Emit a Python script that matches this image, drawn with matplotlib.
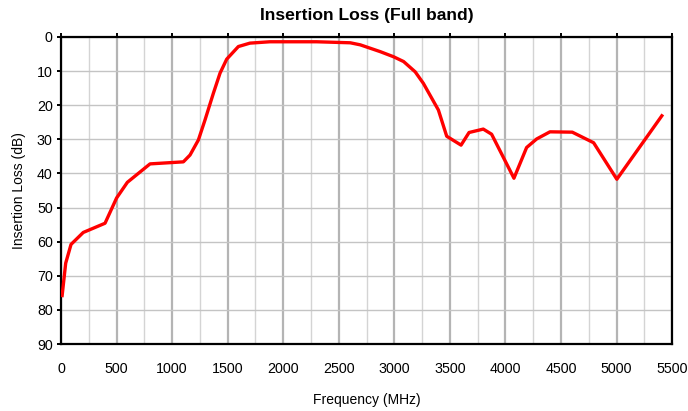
import matplotlib.pyplot as plt
import numpy as np

plt.rcParams['font.family'] = ['Liberation Sans', 'DejaVu Sans']

freq = [10, 42, 90, 200, 396, 500, 597, 801, 1101, 1161, 1236, 1296, 1371, 1431, 1491, 1596, 1700,
        1880, 2300, 2603, 2693, 2873, 2993, 3083, 3187, 3261, 3396, 3471, 3600, 3672,
        3800, 3875, 4076, 4190, 4280, 4400, 4601, 4793, 5002, 5407]
loss = [75.8, 66.3, 60.8, 57.3, 54.6, 47.2, 42.6, 37.2, 36.6, 34.6, 30.2, 24.3, 16.5, 10.6, 6.5, 2.8, 1.8,
        1.4, 1.4, 1.7, 2.3, 4.3, 5.8, 7.2, 10.2, 13.6, 21.4, 29.1, 31.7, 28.0,
        27.0, 28.5, 41.4, 32.4, 29.9, 27.8, 27.9, 31.0, 41.7, 23.1]

xticks = np.arange(0, 5501, 500)
yticks = np.arange(0, 91, 10)

fig = plt.figure(figsize=(6.88, 4.11), dpi=100)
ax = fig.add_axes([0.0887, 0.163, 0.8883, 0.747])

ax.plot(freq, loss, color='#ff0000', lw=2.4, zorder=3)

ax.set_xlim(0, 5500)
ax.set_ylim(90, 0)
ax.set_xticks(xticks)
ax.set_xticks(np.arange(250, 5500, 500), minor=True)
ax.set_yticks(yticks)

ax.grid(True, which='major', axis='x', color='#b4b4b4', lw=1.6)
ax.grid(True, which='minor', axis='x', color='#d4d4d4', lw=1.0)
ax.grid(True, which='major', axis='y', color='#c4c4c4', lw=1.0)

for s in ax.spines.values():
    s.set_linewidth(1.6)
    s.set_color('black')

ax.tick_params(axis='x', which='major', top=True, bottom=False, direction='out',
               length=3, width=1.4, labelsize=10.3, pad=10)
ax.tick_params(axis='x', which='minor', top=False, bottom=False)
ax.tick_params(axis='y', which='major', left=True, direction='out', length=3,
               width=1.4, labelsize=10.3, pad=3)

ax.set_xlabel('Frequency (MHz)', fontsize=10, labelpad=12)
ax.set_ylabel('Insertion Loss (dB)', fontsize=10, labelpad=8)
ax.set_title('Insertion Loss (Full band)', fontsize=12.6, fontweight='bold', pad=12)

fig.savefig('out.png', dpi=100)
